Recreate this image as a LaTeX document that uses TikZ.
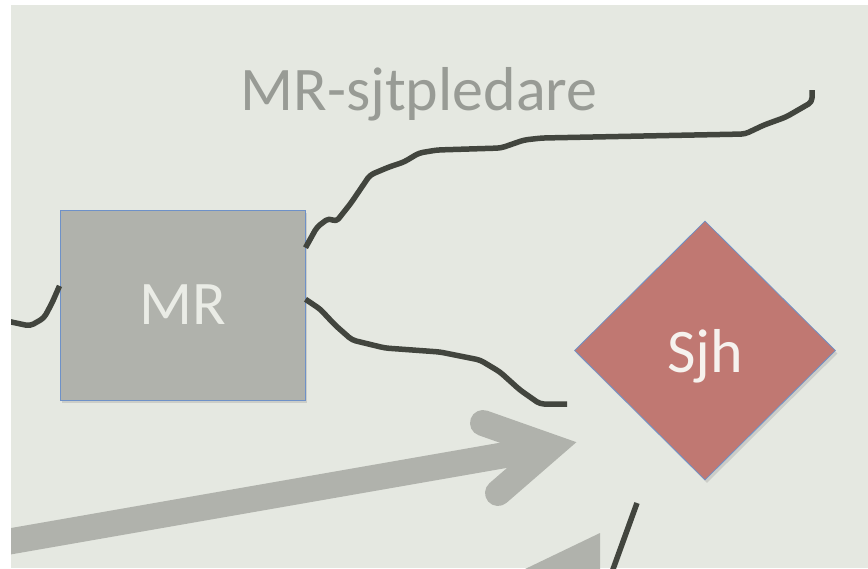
\documentclass[tikz,border=0pt]{standalone}
\usepackage{fontspec}
\setmainfont{Carlito}
\usepackage{tikz}
\usetikzlibrary{shapes.geometric, shadows, calc}
\usepackage{xcolor}
\definecolor{bakgrund}{RGB}{229,232,225}
\definecolor{lada}{RGB}{176,178,172}
\definecolor{kant}{RGB}{110,145,200}
\definecolor{rosa}{RGB}{192,120,114}
\definecolor{streck}{RGB}{66,69,62}
\definecolor{rubrik}{RGB}{152,155,149}
\definecolor{ljus}{RGB}{234,236,230}
\definecolor{vit}{RGB}{246,242,238}
\tikzset{
  stor/.style={font=\fontsize{62}{70}\selectfont},
  skugga/.style={drop shadow={opacity=0.25, shadow xshift=2pt, shadow yshift=-3pt}},
  linje/.style={streck, line width=5.5pt, rounded corners=4pt, line join=round},
  pil/.style={lada, line width=26pt},
}

\begin{document}
\begin{tikzpicture}[x=1pt, y=-1pt]
    % Bakgrund
    \useasboundingbox (0,0) rectangle (868,568);
    \fill[bakgrund] (0,0) rectangle (868,568);
    % Noder
    \node[stor, rubrik, anchor=base] (titel) at (419,110) {MR-sjtpledare};
    \node[stor, ljus, draw=kant, fill=lada, line width=1pt, skugga, minimum width=245pt, minimum height=190pt, inner sep=0pt] (mr) at (182.5,305) {\raisebox{-2pt}{MR}};
    \node[stor, vit, diamond, draw=kant, fill=rosa, line width=0.8pt, skugga, minimum width=261pt, minimum height=259pt, inner sep=0pt, text depth=0pt] (sjh) at (705,350.5) {Sjh};
    % Linjer
    \coordinate (mrV) at ($(mr.north west)!0.4!(mr.south west)$);
    \coordinate (mrO) at ($(mr.north east)!0.2!(mr.south east)$);
    \coordinate (mrN) at ($(mr.north east)!0.47!(mr.south east)$);
    \coordinate (vanster) at (2,320);
    \coordinate (hogerupp) at (812,90);
    \coordinate (slut) at (567,404);
    \coordinate (nedre) at (637,503);
    \coordinate (nedreslut) at (612,572);
    \draw[linje] (vanster) -- (30,326) -- (44,318) -- (52,303) -- (mrV);
    \draw[linje] (mrO) -- (317,227) -- (329,218) -- (336,222) -- (351,203) -- (370,175)
        -- (389,167) -- (404,162) -- (419,153) -- (437,150) -- (501,148) -- (524,140)
        -- (542,138) -- (745,134) -- (764,125) -- (786,117) -- (812,102) -- (hogerupp);
    \draw[linje] (mrN) -- (320,309) -- (335,325) -- (352,340) -- (385,348) -- (440,352)
        -- (480,360) -- (500,372) -- (520,390) -- (540,404) -- (slut);
    \draw[linje] (nedre) -- (nedreslut);
    % Pilar
    \coordinate (pilstart) at (-5,544);
    \coordinate (pilhorn) at (551,447);
    \coordinate (pilupp) at (483,423);
    \coordinate (pilned) at (498,493);
    \draw[pil] (pilstart) -- (pilhorn);
    \draw[pil, line cap=round, line join=miter] (pilupp) -- (pilhorn) -- (pilned);
    \fill[lada] (600,533) -- (600,570) -- (523,570) -- cycle;
    % Kanter
    \fill[white] (0,0) rectangle (11,568);
    \fill[white] (0,0) rectangle (868,5);
\end{tikzpicture}
\end{document}
